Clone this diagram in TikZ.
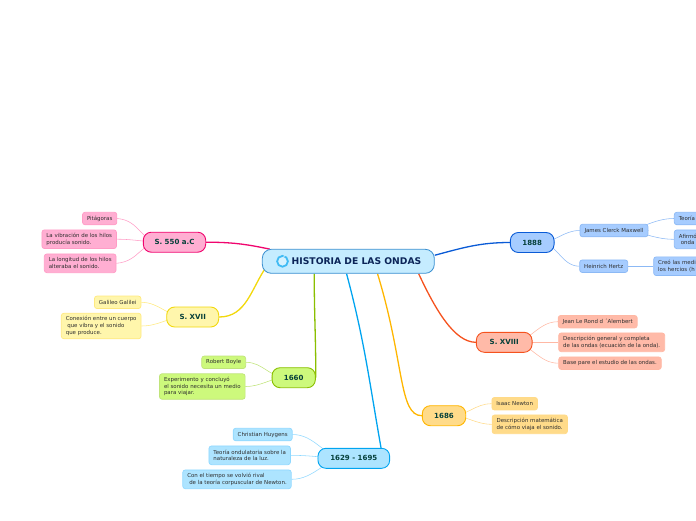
\documentclass[tikz,border=0pt]{standalone}
\usepackage{fontspec}
\setmainfont{DejaVu Sans}
\usetikzlibrary{positioning, backgrounds}

\definecolor{pinkline}{HTML}{F0056E}
\definecolor{pinkfill}{HTML}{FFAED2}
\definecolor{pinkthin}{HTML}{FF9CC6}
\definecolor{yellowline}{HTML}{F2D80C}
\definecolor{yellowfill}{HTML}{FFF6AC}
\definecolor{yellowthin}{HTML}{FFE97E}
\definecolor{greenline}{HTML}{8ABF00}
\definecolor{greenfill}{HTML}{CDF97C}
\definecolor{greenthin}{HTML}{C0E47A}
\definecolor{skyline}{HTML}{00A4F0}
\definecolor{skyfill}{HTML}{ADE4FF}
\definecolor{skythin}{HTML}{8FD8FF}
\definecolor{amberline}{HTML}{FFB600}
\definecolor{amberfill}{HTML}{FFDB8A}
\definecolor{amberthin}{HTML}{FFDA88}
\definecolor{redline}{HTML}{F5521E}
\definecolor{redfill}{HTML}{FFBAA8}
\definecolor{redthin}{HTML}{FFB8A4}
\definecolor{navyline}{HTML}{0A5BD6}
\definecolor{navyfill}{HTML}{A6CCFF}
\definecolor{navythin}{HTML}{8CB9F5}
\definecolor{rootline}{HTML}{3A8FD0}
\definecolor{rootfill}{HTML}{C5ECFF}
\definecolor{roottext}{HTML}{0B2458}
\definecolor{branchtext}{HTML}{06403A}
\definecolor{leaftext}{HTML}{2E2E2E}

\begin{document}
\begin{tikzpicture}[x=1pt, y=1pt, on grid,
        rootbox/.style={draw=rootline, fill=rootfill, line width=0.8pt, rounded corners=9pt, minimum width=172pt, minimum height=24pt, inner sep=0pt, font=\fontsize{9.2}{11}\selectfont\bfseries, text=roottext},
        branch/.style={line width=0.9pt, rounded corners=8pt, minimum height=20pt, inner sep=0pt, font=\fontsize{7.05}{8.5}\selectfont\bfseries, text=branchtext},
        leaf/.style={line width=0.7pt, rounded corners=2.5pt, minimum height=12.5pt, inner xsep=4.5pt, inner ysep=0pt, align=left, font=\fontsize{5.45}{6.7}\selectfont, text=leaftext},
        twolines/.style={minimum height=18.7pt},
        threelines/.style={minimum height=25.5pt},
        mainlink/.style={line width=1.3pt},
        leaflink/.style={line width=0.55pt}]

    % centre
    \useasboundingbox (0,0) rectangle (696,-520);
    \node[rootbox] (root) at (348.3,-261.3) {\hspace*{16.4pt}HISTORIA DE LAS ONDAS};
    \node[circle, draw=skyline!75, fill=rootfill!70!white, line width=1.8pt, minimum size=10.8pt, inner sep=0pt, left=65.8pt of root] (rooticon) {};
    \draw[rootfill, line width=1pt] (rooticon.center) ++(0.9,3) -- (rooticon.72);

    % branches
    \node[branch, draw=pinkline, fill=pinkfill, minimum width=62.4pt, above left=19.1pt and 173.8pt of root] (s550) {S. 550 a.C};
    \node[branch, draw=yellowline, fill=yellowfill, minimum width=52pt, below left=55.7pt and 155.6pt of root] (xvii) {S. XVII};
    \node[branch, draw=greenline, fill=greenfill, minimum width=43.3pt, below left=116.4pt and 54.6pt of root] (y1660) {1660};
    \node[branch, draw=skyline, fill=skyfill, minimum width=71.7pt, below right=197pt and 5.5pt of root] (y1629) {1629 - 1695};
    \node[branch, draw=amberline, fill=amberfill, minimum width=43.4pt, below right=154.4pt and 95.7pt of root] (y1686) {1686};
    \node[branch, draw=redline, fill=redfill, minimum width=55.7pt, below right=81pt and 155.9pt of root] (xviii) {S. XVIII};
    \node[branch, draw=navyline, fill=navyfill, minimum width=43.7pt, above right=18.8pt and 183.9pt of root] (y1888) {1888};

    % S. 550 a.C
    \node[leaf, draw=pinkthin, fill=pinkfill, above left=23.7pt and 74.8pt of s550] (pitagoras) {Pitágoras};
    \node[leaf, twolines, draw=pinkthin, fill=pinkfill, above left=3pt and 95.3pt of s550] (vibracion) {La vibración de los hilos\\producía sonido.};
    \node[leaf, twolines, draw=pinkthin, fill=pinkfill, below left=21.1pt and 94.3pt of s550] (longitud) {La longitud de los hilos\\alteraba el sonido.};

    % S. XVII
    \node[leaf, draw=yellowthin, fill=yellowfill, above left=14.7pt and 75pt of xvii] (galileo) {Galileo Galilei};
    \node[leaf, threelines, draw=yellowthin, fill=yellowfill, below left=9pt and 91.5pt of xvii] (conexion) {Conexión entre un cuerpo\\\hspace*{1.5pt}que vibra y el sonido\\que produce.};

    % 1660
    \node[leaf, draw=greenthin, fill=greenfill, above left=15.4pt and 70pt of y1660] (boyle) {Robert Boyle};
    \node[leaf, threelines, draw=greenthin, fill=greenfill, below left=8.8pt and 91.4pt of y1660] (experimento) {Experimento y concluyó\\el sonido necesita un medio\\para viajar.};

    % 1629 - 1695
    \node[leaf, draw=skythin, fill=skyfill, above left=23.8pt and 91.1pt of y1629] (huygens) {Christian Huygens};
    \node[leaf, twolines, draw=skythin, fill=skyfill, above left=3pt and 104.1pt of y1629] (ondulatoria) {Teoría ondulatoria sobre la\\naturaleza de la luz.};
    \node[leaf, twolines, draw=skythin, fill=skyfill, below left=21pt and 116.8pt of y1629] (rival) {Con el tiempo se volvió rival\\\hspace*{2pt}de la teoría corpuscular de Newton.};

    % 1686
    \node[leaf, draw=amberthin, fill=amberfill, above right=12pt and 70.7pt of y1686] (newton) {Isaac Newton};
    \node[leaf, twolines, draw=amberthin, fill=amberfill, below right=8.6pt and 85.8pt of y1686] (matematica) {Descripción matemática\\de cómo viaja el sonido.};

    % S. XVIII
    \node[leaf, draw=redthin, fill=redfill, above right=20.6pt and 93.5pt of xviii] (alembert) {Jean Le Rond d ´Alembert};
    \node[leaf, twolines, draw=redthin, fill=redfill, right=107.5pt of xviii] (general) {Descripción general y completa\\de las ondas (ecuación de la onda).};
    \node[leaf, draw=redthin, fill=redfill, below right=20.9pt and 105.8pt of xviii] (base) {Base pare el estudio de las ondas.};

    % 1888, the last boxes run over the page edge
    \node[leaf, draw=navythin, fill=navyfill, above right=12pt and 81.8pt of y1888] (maxwell) {James Clerck Maxwell};
    \node[leaf, draw=navythin, fill=navyfill, below right=23.7pt and 71.5pt of y1888] (hertz) {Heinrich Hertz};
    \node[leaf, draw=navythin, fill=navyfill, text width=51pt, above right=12pt and 90.3pt of maxwell] (teoria) {Teoría};
    \node[leaf, twolines, draw=navythin, fill=navyfill, text width=51pt, below right=8.8pt and 90.3pt of maxwell] (afirmo) {Afirmó\\\hspace*{2pt}onda};
    \node[leaf, twolines, draw=navythin, fill=navyfill, text width=71pt, right=90pt of hertz] (creo) {Creó las medi\\los hercios (h};

    % junctions
    \coordinate[left=11.5pt of s550] (s550j);
    \coordinate[left=7pt of xvii] (xviij);
    \coordinate[left=7pt of y1660] (y1660j);
    \coordinate[left=6.5pt of y1629] (y1629j);
    \coordinate[right=7pt of y1686] (y1686j);
    \coordinate[right=6.5pt of xviii] (xviiij);
    \coordinate[right=7pt of y1888] (y1888j);
    \coordinate[right=6pt of maxwell] (maxwellj);

    \begin{scope}[on background layer]
        \draw[mainlink, pinkline] (s550.east) to[out=0, in=168] ([xshift=8pt]root.172.6);
        \draw[mainlink, yellowline] (xvii.east) to[out=0, in=235] ([shift={(5,3)}]root.185.3);
        \draw[mainlink, greenline] (y1660.east) to[out=90, in=270] (root.200);
        \draw[mainlink, skyline] (y1629.21.9) to[out=100, in=285] (root.262.6);
        \draw[mainlink, amberline] (y1686.west) to[out=180, in=287, out looseness=0.4, in looseness=1.6] (root.337.1);
        \draw[mainlink, redline] (xviii.west) to[out=180, in=295, out looseness=0.6, in looseness=1.2] (root.350.7);
        \draw[mainlink, navyline] (y1888.west) to[out=180, in=15] (root.4.9);

        \draw[leaflink, pinkthin] (s550.west) -- (s550j) to[out=180, in=-5, looseness=1.2] (pitagoras.east);
        \draw[leaflink, pinkthin] (s550j) to[out=180, in=0] (vibracion.east);
        \draw[leaflink, pinkthin] (s550j) to[out=180, in=5, looseness=1.2] (longitud.east);

        \draw[leaflink, yellowthin] (xvii.west) -- (xviij) to[out=180, in=0] (galileo.east);
        \draw[leaflink, yellowthin] (xviij) to[out=180, in=0] (conexion.east);

        \draw[leaflink, greenthin] (y1660.west) -- (y1660j) to[out=180, in=0] (boyle.east);
        \draw[leaflink, greenthin] (y1660j) to[out=180, in=0] (experimento.east);

        \draw[leaflink, skythin] (y1629.west) -- (y1629j) to[out=180, in=0] (huygens.east);
        \draw[leaflink, skythin] (y1629j) to[out=180, in=0] (ondulatoria.east);
        \draw[leaflink, skythin] (y1629j) to[out=180, in=0] (rival.east);

        \draw[leaflink, amberthin] (y1686.east) -- (y1686j) to[out=0, in=180] (newton.west);
        \draw[leaflink, amberthin] (y1686j) to[out=0, in=180] (matematica.west);

        \draw[leaflink, redthin] (xviii.east) -- (xviiij) to[out=0, in=180] (alembert.west);
        \draw[leaflink, redthin] (xviiij) to[out=0, in=180] (general.west);
        \draw[leaflink, redthin] (xviiij) to[out=0, in=180] (base.west);

        \draw[leaflink, navythin] (y1888.east) -- (y1888j) to[out=0, in=180] (maxwell.west);
        \draw[leaflink, navythin] (y1888j) to[out=0, in=180] (hertz.west);
        \draw[leaflink, navythin] (maxwell.east) -- (maxwellj) to[out=0, in=180] (teoria.west);
        \draw[leaflink, navythin] (maxwellj) to[out=0, in=180] (afirmo.west);
        \draw[leaflink, navythin] (hertz.east) -- (creo.west);
    \end{scope}
\end{tikzpicture}
\end{document}
